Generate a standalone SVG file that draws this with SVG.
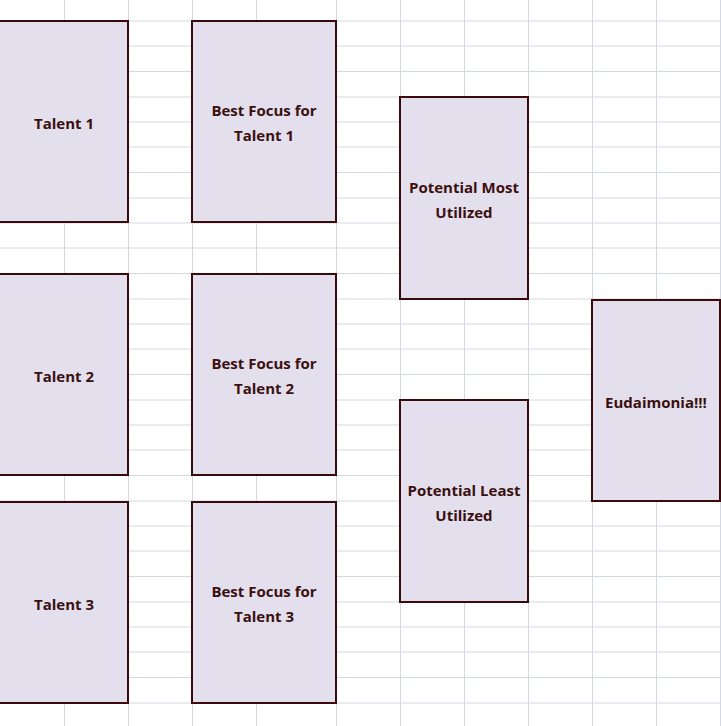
<svg xmlns="http://www.w3.org/2000/svg" width="721" height="726" viewBox="0 0 721 726">
<style>
.g{stroke:#d4d8e2;stroke-width:1}
.b{fill:#e4dfec;stroke:#3a0a0a;stroke-width:2}
.t{font-family:"Open Sans","Liberation Sans",sans-serif;font-weight:bold;font-size:15px;fill:#3a1010;text-anchor:middle}
</style>
<rect width="721" height="726" fill="#fff"/>
<g id="grid">
<path class="g" d="M64.5 0V726M128.5 0V726M192.5 0V726M256.5 0V726M336.5 0V726M400.5 0V726M464.5 0V726M528.5 0V726M592.5 0V726M656.5 0V726M720.5 0V726"/>
<path class="g" d="M0 21H721M0 46H721M0 71.5H721M0 97H721M0 122H721M0 147H721M0 172.5H721M0 198H721M0 223H721M0 248H721M0 273.5H721M0 299H721M0 324H721M0 349H721M0 374.5H721M0 400H721M0 425H721M0 450H721M0 475.5H721M0 501H721M0 526H721M0 551H721M0 576.5H721M0 602H721M0 627H721M0 652H721M0 677.5H721M0 703H721"/>
</g>
<g id="t1"><rect class="b" x="-2" y="21" width="130" height="201"/><text class="t" x="64" y="129">Talent 1</text></g>
<g id="t2"><rect class="b" x="-2" y="274" width="130" height="201"/><text class="t" x="64" y="382">Talent 2</text></g>
<g id="t3"><rect class="b" x="-2" y="502" width="130" height="201"/><text class="t" x="64" y="610">Talent 3</text></g>
<g id="f1"><rect class="b" x="192" y="21" width="144" height="201"/><text class="t" x="264" y="116">Best Focus for</text><text class="t" x="264" y="141">Talent 1</text></g>
<g id="f2"><rect class="b" x="192" y="274" width="144" height="201"/><text class="t" x="264" y="369">Best Focus for</text><text class="t" x="264" y="394">Talent 2</text></g>
<g id="f3"><rect class="b" x="192" y="502" width="144" height="201"/><text class="t" x="264" y="597">Best Focus for</text><text class="t" x="264" y="622">Talent 3</text></g>
<g id="pm"><rect class="b" x="400" y="97" width="128" height="202"/><text class="t" x="464" y="193">Potential Most</text><text class="t" x="464" y="218">Utilized</text></g>
<g id="pl"><rect class="b" x="400" y="400" width="128" height="202"/><text class="t" x="464" y="496">Potential Least</text><text class="t" x="464" y="521">Utilized</text></g>
<g id="eu"><rect class="b" x="592" y="300" width="128" height="201"/><text class="t" x="656" y="408">Eudaimonia!!!</text></g>
<g id="connectors"/>
</svg>
